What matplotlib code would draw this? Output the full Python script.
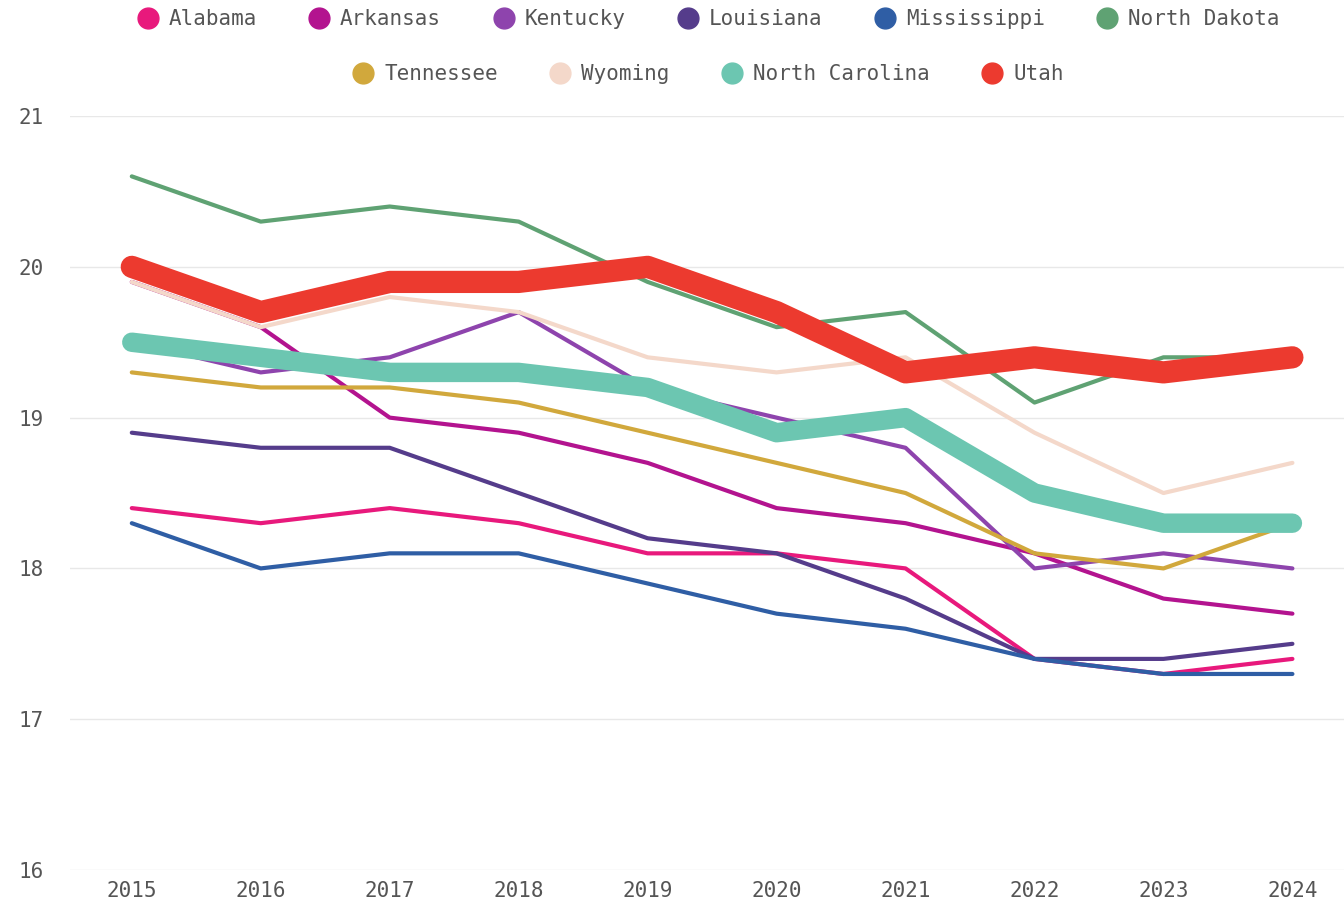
import numpy as np
import matplotlib
import matplotlib.pyplot as plt
from matplotlib.lines import Line2D

matplotlib.rc("font", family=["DejaVu Sans Mono"], size=15)

years = [2015, 2016, 2017, 2018, 2019, 2020, 2021, 2022, 2023, 2024]

states = ["Alabama", "Arkansas", "Kentucky", "Louisiana", "Mississippi",
          "North Dakota", "Tennessee", "Wyoming", "North Carolina", "Utah"]

alabama = [18.4, 18.3, 18.4, 18.3, 18.1, 18.1, 18.0, 17.4, 17.3, 17.4]
arkansas = [19.9, 19.6, 19.0, 18.9, 18.7, 18.4, 18.3, 18.1, 17.8, 17.7]
kentucky = [19.5, 19.3, 19.4, 19.7, 19.2, 19.0, 18.8, 18.0, 18.1, 18.0]
louisiana = [18.9, 18.8, 18.8, 18.5, 18.2, 18.1, 17.8, 17.4, 17.4, 17.5]
mississippi = [18.3, 18.0, 18.1, 18.1, 17.9, 17.7, 17.6, 17.4, 17.3, 17.3]
north_dakota = [20.6, 20.3, 20.4, 20.3, 19.9, 19.6, 19.7, 19.1, 19.4, 19.4]
tennessee = [19.3, 19.2, 19.2, 19.1, 18.9, 18.7, 18.5, 18.1, 18.0, 18.3]
wyoming = [19.9, 19.6, 19.8, 19.7, 19.4, 19.3, 19.4, 18.9, 18.5, 18.7]
north_carolina = [19.5, 19.4, 19.3, 19.3, 19.2, 18.9, 19.0, 18.5, 18.3, 18.3]
utah = [20.0, 19.7, 19.9, 19.9, 20.0, 19.7, 19.3, 19.4, 19.3, 19.4]

values = [alabama, arkansas, kentucky, louisiana, mississippi,
          north_dakota, tennessee, wyoming, north_carolina, utah]

colors = ["#e8197c", "#b3138f", "#8e44ad", "#553c8b", "#2f5ea5",
          "#5fa273", "#d1a83c", "#f4d8ca", "#6cc6b1", "#ec3a2f"]
widths = [3, 3, 3, 3, 3, 3, 3, 3, 14, 16]

fig = plt.figure(figsize=(13.44, 9.01), dpi=100)
ax = fig.add_axes([0.052, 0.0344, 0.948, 0.8368])

for name, vals, c, w in zip(states, values, colors, widths):
    ax.plot(years, vals, color=c, lw=w, solid_capstyle="round",
            solid_joinstyle="round", zorder=3 if w > 5 else 2)

ax.set_xlim(2014.52, 2024.4)
ax.set_ylim(16, 21)
ax.set_xticks(years)
ax.set_yticks([16, 17, 18, 19, 20, 21])
ax.grid(axis="y", color="#e8e8e8", lw=1)
ax.set_axisbelow(True)
for s in ax.spines.values():
    s.set_visible(False)
ax.tick_params(length=0, colors="#555555", labelsize=15)
ax.tick_params(axis="y", pad=37)
for lab in ax.get_yticklabels():
    lab.set_horizontalalignment("left")
ax.tick_params(axis="x", pad=8)

# легенда в две строки
handles = [Line2D([], [], marker="o", ls="", markersize=15, color=c) for c in colors]
opts = dict(loc="center", frameon=False, handlelength=1.0, handletextpad=0.5,
            columnspacing=2.5, fontsize=15, labelcolor="#555555")
fig.legend(handles[:6], states[:6], ncol=6, bbox_to_anchor=(0.527, 0.979), **opts)
fig.legend(handles[6:], states[6:], ncol=4, bbox_to_anchor=(0.527, 0.918), **opts)

fig.savefig("out.png", dpi=100)
